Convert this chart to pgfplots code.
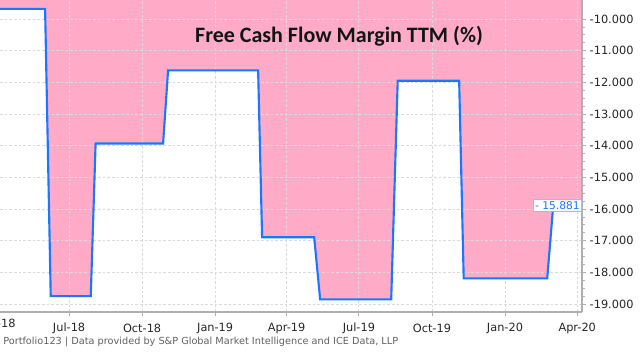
\documentclass[border=0pt]{standalone}
\usepackage{fontspec}
\setmainfont{DejaVu Sans}
\newfontfamily\titlefont{Carlito}
\usepackage{pgfplots}
\pgfplotsset{compat=1.18}
\definecolor{fillpink}{RGB}{255,171,200}
\definecolor{lineblue}{RGB}{25,120,255}
\definecolor{gridgray}{RGB}{218,218,218}
\definecolor{axisgray}{RGB}{175,175,175}
\definecolor{tagborder}{RGB}{150,190,255}
\begin{document}
\begin{tikzpicture}
\begin{axis}[
  name=ax,
  set layers,
  scale only axis, width=436.5pt, height=234pt,
  xmin=-87, xmax=646, ymin=-19.25, ymax=-9.40,
  axis x line*=bottom, axis y line*=right,
  axis line style={axisgray, line width=0.9pt},
  xtick={0,92,184,274,365,457,549,640},
  xticklabels={Jul-18,Oct-18,Jan-19,Apr-19,Jul-19,Oct-19,Jan-20,Apr-20},
  ytick={-19,-18,-17,-16,-15,-14,-13,-12,-11,-10},
  yticklabels={-19.000,-18.000,-17.000,-16.000,-15.000,-14.000,-13.000,-12.000,-11.000,-10.000},
  minor y tick num=3,
  tick align=outside,
  major tick length=3pt, minor tick length=2pt,
  tick style={axisgray, line width=0.6pt},
  grid=major,
  major grid style={gridgray, line width=0.6pt, dash pattern=on 2pt off 1.5pt},
  ticklabel style={font=\fontsize{8.5}{10}\selectfont, text=black!85},
  xticklabel style={anchor=center, yshift=-9.5pt},
  yticklabel style={anchor=west, inner sep=0pt, xshift=2.6pt},
]
\addplot[on layer=axis background, fill=fillpink, draw=none] coordinates {
(-87,-9.68) (-30.2,-9.68) (-23.1,-18.75) (27.3,-18.75) (33.4,-13.93) (118.4,-13.93)
(124.7,-11.62) (238.1,-11.62) (243.1,-16.89) (308.7,-16.89) (316.2,-18.85) (405.7,-18.85)
(413.9,-11.95) (491.3,-11.95) (497.0,-18.19) (602.2,-18.19) (609.8,-15.881)
(646,-15.881) (646,-9.40) (-87,-9.40)} -- cycle;
\addplot[lineblue, line width=1.6pt] coordinates {
(-87,-9.68) (-30.2,-9.68) (-23.1,-18.75) (27.3,-18.75) (33.4,-13.93) (118.4,-13.93)
(124.7,-11.62) (238.1,-11.62) (243.1,-16.89) (308.7,-16.89) (316.2,-18.85) (405.7,-18.85)
(413.9,-11.95) (491.3,-11.95) (497.0,-18.19) (602.2,-18.19) (609.8,-15.881)};
\node[anchor=east, fill=white, draw=tagborder, line width=0.5pt, text=lineblue,
  inner xsep=1.5pt, inner ysep=1.7pt, font=\fontsize{8}{9}\selectfont]
  at (axis cs:646,-15.881) {- 15.881};
\node[anchor=base, text=black!92, font=\titlefont\bfseries\fontsize{16.5}{18}\selectfont]
  at (rel axis cs:0.5826,0.8646) {Free Cash Flow Margin TTM (\%)};
\end{axis}
\node[anchor=center, text=black!85, font=\fontsize{8.5}{10}\selectfont]
  at ([xshift=-2.4pt, yshift=-9.5pt]ax.south west) {Apr-18};
\node[anchor=west, inner sep=0pt, text=black!62, font=\fontsize{7.3}{8}\selectfont]
  at ([xshift=2.25pt, yshift=-22.5pt]ax.south west)
  {Portfolio123 | Data provided by S\&P Global Market Intelligence and ICE Data, LLP};
\pgfresetboundingbox
\path[use as bounding box] ([yshift=-31.5pt]ax.south west) rectangle ([xshift=480pt, yshift=234pt]ax.south west);
\end{tikzpicture}
\end{document}
